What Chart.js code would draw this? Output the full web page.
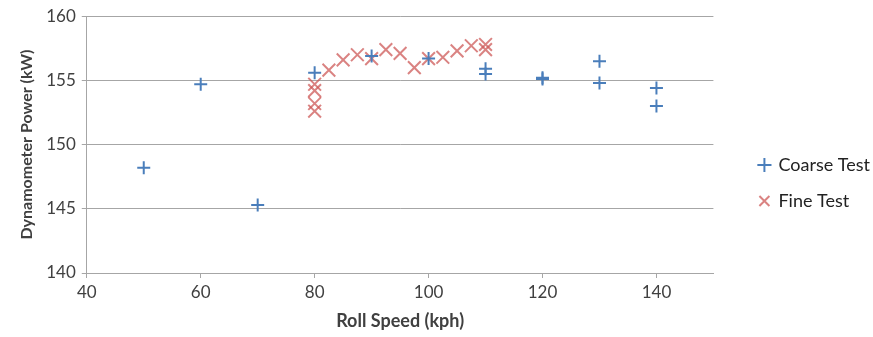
<!DOCTYPE html>
<html>
<head>
<meta charset="utf-8">
<script src="https://cdn.jsdelivr.net/npm/chart.js@4.4.1/dist/chart.umd.min.js"></script>
<style>
  html, body { margin: 0; padding: 0; background: #ffffff; }
  #wrap { position: relative; width: 873px; height: 337px; }
</style>
</head>
<body>
<div id="wrap"><canvas id="chart-power"></canvas></div>
<script>
// Roll speed sweep vs dynamometer power, coarse and fine passes
var COARSE_SPEED = [50, 60, 70, 80, 90, 100, 110, 110, 120, 120, 130, 130, 140, 140];
var COARSE_POWER = [148.2, 154.7, 145.3, 155.6, 156.9, 156.7, 155.9, 155.5, 155.2, 155.1, 156.5, 154.8, 154.4, 153.0];

var FINE_SPEED = [80, 80, 80, 80, 82.5, 85, 87.5, 90, 92.5, 95, 97.5, 100, 102.5, 105, 107.5, 110, 110];
var FINE_POWER = [152.6, 153.2, 154.2, 154.7, 155.8, 156.6, 157.0, 156.7, 157.4, 157.1, 156.0, 156.7, 156.8, 157.3, 157.7, 157.8, 157.4];

var SERIES_NAMES = ["Coarse Test", "Fine Test"];

var BLUE = "#4a7ebb";
var RED = "rgba(205, 90, 88, 0.75)";
var GRID = "#a6a6a6";
var TEXT = "#404040";
var LEGEND_GAP = 21;
var LEGEND_SHIFT_X = 28;
var LEGEND_SHIFT_Y = 9;

Chart.defaults.font.family = "Lato, 'Open Sans', sans-serif";
Chart.defaults.color = TEXT;

function toPoints(xs, ys) {
  return xs.map(function (x, i) { return { x: x, y: ys[i] }; });
}

// widen the legend box, then nudge its items back toward the right edge
var legendGap = {
  id: "legendGap",
  afterInit: function (chart) {
    var legend = chart.legend;
    var fit = legend.fit;
    legend.fit = function () { fit.call(this); this.width += LEGEND_GAP; };
    var draw = legend.draw;
    legend.draw = function () {
      this.ctx.save();
      this.ctx.translate(LEGEND_SHIFT_X, LEGEND_SHIFT_Y);
      draw.call(this);
      this.ctx.restore();
    };
  }
};

new Chart(document.getElementById("chart-power"), {
  type: "scatter",
  data: {
    datasets: [
      {
        label: SERIES_NAMES[0],
        data: toPoints(COARSE_SPEED, COARSE_POWER),
        pointStyle: "cross",
        pointRadius: 6.5,
        pointBorderWidth: 2,
        borderColor: BLUE,
        backgroundColor: BLUE
      },
      {
        label: SERIES_NAMES[1],
        data: toPoints(FINE_SPEED, FINE_POWER),
        pointStyle: "crossRot",
        pointRadius: 9,
        pointBorderWidth: 2,
        borderColor: RED,
        backgroundColor: RED
      }
    ]
  },
  options: {
    responsive: true,
    maintainAspectRatio: false,
    animation: false,
    layout: { padding: { left: 17, top: 16, right: 0, bottom: 5 } },
    plugins: {
      legend: {
        position: "right",
        labels: {
          usePointStyle: true,
          boxWidth: 10,
          boxHeight: 10,
          padding: 18,
          color: "#222222",
          font: { size: 18 }
        }
      },
      tooltip: { enabled: false }
    },
    scales: {
      x: {
        type: "linear",
        min: 40,
        max: 150,
        afterBuildTicks: function (axis) {
          axis.ticks = axis.ticks.filter(function (t) { return t.value <= 140; });
        },
        ticks: { stepSize: 20, font: { size: 17 }, padding: 4 },
        grid: { drawOnChartArea: false, color: GRID, tickLength: 5 },
        border: { color: GRID },
        title: {
          display: true,
          text: "Roll Speed (kph)",
          font: { size: 18, weight: "bold" },
          padding: { top: 4, bottom: 0 }
        }
      },
      y: {
        min: 140,
        max: 160,
        ticks: { stepSize: 5, font: { size: 17 }, padding: 6 },
        grid: { color: GRID, tickLength: 5 },
        border: { color: GRID },
        title: {
          display: true,
          text: "Dynamometer Power (kW)",
          font: { size: 16, weight: "bold" },
          padding: { top: 0, bottom: 4 }
        }
      }
    }
  },
  plugins: [legendGap]
});
</script>
</body>
</html>
